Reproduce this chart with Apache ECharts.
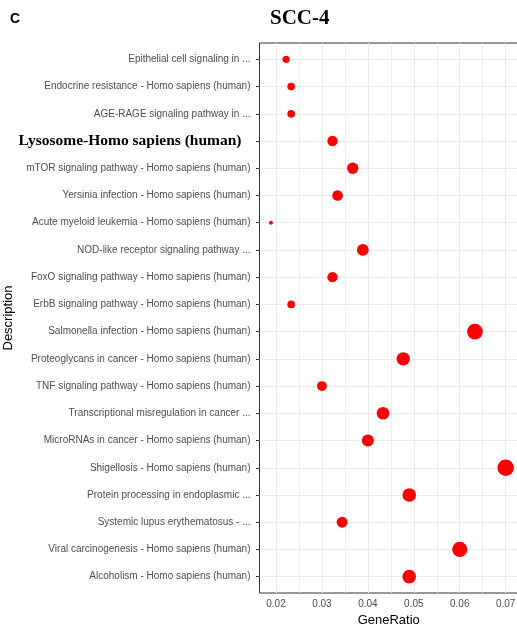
<!DOCTYPE html>
<html>
<head>
<meta charset="utf-8">
<script src="https://cdn.jsdelivr.net/npm/echarts@6/dist/echarts.min.js"></script>
<style>
  html, body { margin: 0; padding: 0; background: #fff; }
  #chart { width: 517px; height: 627px; }
</style>
</head>
<body>
<div id="chart"></div>
<script>
// KEGG enrichment terms, listed top to bottom
const categories = [
  'Epithelial cell signaling in ...',
  'Endocrine resistance - Homo sapiens (human)',
  'AGE-RAGE signaling pathway in ...',
  'Lysosome-Homo sapiens (human)',
  'mTOR signaling pathway - Homo sapiens (human)',
  'Yersinia infection - Homo sapiens (human)',
  'Acute myeloid leukemia - Homo sapiens (human)',
  'NOD-like receptor signaling pathway ...',
  'FoxO signaling pathway - Homo sapiens (human)',
  'ErbB signaling pathway - Homo sapiens (human)',
  'Salmonella infection - Homo sapiens (human)',
  'Proteoglycans in cancer - Homo sapiens (human)',
  'TNF signaling pathway - Homo sapiens (human)',
  'Transcriptional misregulation in cancer ...',
  'MicroRNAs in cancer - Homo sapiens (human)',
  'Shigellosis - Homo sapiens (human)',
  'Protein processing in endoplasmic ...',
  'Systemic lupus erythematosus - ...',
  'Viral carcinogenesis - Homo sapiens (human)',
  'Alcoholism - Homo sapiens (human)'
];

// GeneRatio per term (same order)
const geneRatio = [
  0.0222, 0.0233, 0.0233, 0.0323, 0.0367,
  0.0334, 0.0189, 0.0389, 0.0323, 0.0233,
  0.0633, 0.0477, 0.0300, 0.0433, 0.0400,
  0.0700, 0.0490, 0.0344, 0.0600, 0.0490
];

const highlightedTerm = 'Lysosome-Homo sapiens (human)';
const xTicks = [0.02, 0.03, 0.04, 0.05, 0.06, 0.07];
const xMinor = [0.025, 0.035, 0.045, 0.055, 0.065];
const yTicks = categories.map((_, i) => i);

const yMin = -0.6;
const yMax = categories.length - 1 + 0.6;

const rMin = Math.min(...geneRatio);
const rMax = Math.max(...geneRatio);
// area-proportional point size
function pointSize(v) {
  const t = (v - rMin) / (rMax - rMin);
  return 4 + 12.5 * Math.sqrt(Math.max(0, t));
}

const gridColor = '#ebebeb';
const labelColor = '#4d4d4d';
const sans = '"Liberation Sans", Arial, sans-serif';
const serif = '"Liberation Serif", "Times New Roman", serif';

// vertical grid line spanning the whole panel at x = v
function vLine(v) {
  return [{ coord: [v, yMin] }, { coord: [v, yMax] }];
}

const chart = echarts.init(document.getElementById('chart'), null, { renderer: 'canvas' });

chart.setOption({
  backgroundColor: '#ffffff',
  animation: false,
  title: {
    text: 'SCC-4',
    left: 265,
    top: 3,
    textStyle: {
      fontFamily: serif,
      fontWeight: 'bold',
      fontSize: 21,
      color: '#000'
    }
  },
  graphic: [{
    type: 'text',
    left: 10,
    top: 12,
    style: {
      text: 'C',
      font: 'bold 14px ' + sans,
      fill: '#000'
    }
  }],
  grid: {
    left: 259.5,
    right: -1,
    top: 43,
    bottom: 34,
    show: true,
    borderColor: '#333333',
    borderWidth: 1,
    containLabel: false,
    outerBoundsMode: 'none'
  },
  xAxis: {
    type: 'value',
    min: 0.01641,
    max: 0.07268,
    name: 'GeneRatio',
    nameLocation: 'middle',
    nameGap: 16,
    nameTextStyle: { fontFamily: sans, fontSize: 13, color: '#000' },
    axisLine: { show: false },
    axisTick: {
      show: true, inside: false, length: 3.5,
      lineStyle: { color: '#333333', width: 1 },
      customValues: xTicks
    },
    axisLabel: {
      fontFamily: sans, fontSize: 10, color: labelColor, margin: 6,
      customValues: xTicks,
      formatter: v => v.toFixed(2)
    },
    splitLine: { show: false }
  },
  yAxis: {
    type: 'value',
    inverse: true,
    min: yMin,
    max: yMax,
    name: 'Description',
    nameLocation: 'middle',
    nameRotate: 90,
    nameGap: 236,
    nameTextStyle: { fontFamily: sans, fontSize: 13, color: '#000' },
    axisLine: { show: false },
    axisTick: {
      show: true, inside: false, length: 3.5,
      lineStyle: { color: '#333333', width: 1 },
      customValues: yTicks
    },
    axisLabel: {
      fontFamily: sans, fontSize: 10, color: labelColor, margin: 9,
      customValues: yTicks,
      formatter: v => {
        const name = categories[Math.round(v)];
        return name === highlightedTerm ? '{em|' + name + '}' : name;
      },
      rich: {
        em: {
          fontFamily: serif,
          fontWeight: 'bold',
          fontSize: 15.5,
          color: '#000',
          padding: [0, 9, 0, 0]
        }
      }
    },
    splitLine: { show: true, lineStyle: { color: gridColor, width: 1 } }
  },
  series: [
    {
      // major and minor vertical grid lines
      type: 'scatter',
      data: [],
      z: 1,
      silent: true,
      markLine: {
        z: 1,
        silent: true,
        symbol: ['none', 'none'],
        label: { show: false },
        lineStyle: { color: gridColor, width: 1, type: 'solid' },
        data: xTicks.map(vLine).concat(
          xMinor.map(v => {
            const seg = vLine(v);
            seg[0].lineStyle = { color: gridColor, width: 0.8, type: 'solid' };
            return seg;
          })
        )
      }
    },
    {
      type: 'scatter',
      z: 3,
      data: geneRatio.map((v, i) => [v, i]),
      symbol: 'circle',
      symbolSize: d => pointSize(d[0]),
      itemStyle: { color: '#ff0000', opacity: 1 }
    }
  ]
});
</script>
</body>
</html>
